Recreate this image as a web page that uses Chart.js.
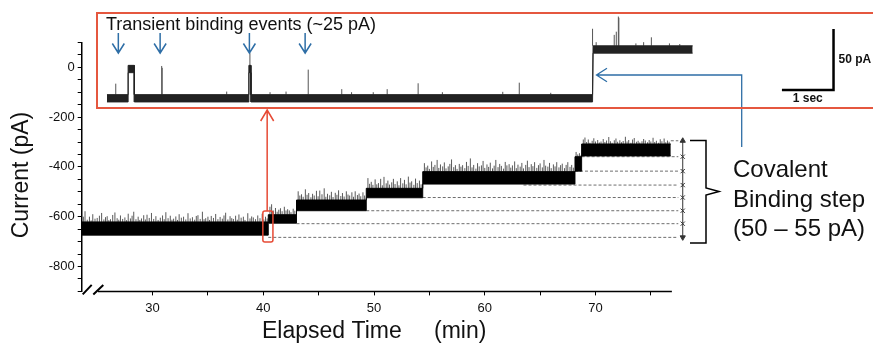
<!DOCTYPE html>
<html>
<head>
<meta charset="utf-8">
<script src="https://cdn.jsdelivr.net/npm/chart.js@4.4.1/dist/chart.umd.min.js"></script>
<style>
  html, body { margin: 0; padding: 0; background: #fff; overflow: hidden; }
  #wrap { position: relative; width: 873px; height: 348px; overflow: hidden; }
  #main { position: absolute; left: 0; top: 0; }
  #insetBox { position: absolute; left: 96px; top: 12px; width: 800px; height: 93px; border: 2px solid #e5573f; }
  #inset { position: absolute; left: 98px; top: 14px; }
</style>
</head>
<body>
<div id="wrap">
  <canvas id="main" width="873" height="348"></canvas>
  <div id="insetBox"></div>
  <canvas id="inset" width="775" height="93"></canvas>
</div>
<script>
Chart.defaults.font.family = "'Liberation Sans', Arial, sans-serif";
Chart.defaults.color = '#111';

// ---- main recording: current levels (time in min, current in pA) ----
const levelStart = [23.6, 40.45, 43.0, 49.3, 54.4, 68.15, 68.75];
const levelEnd   = [40.45, 43.0, 49.3, 54.4, 68.15, 68.75, 76.8];
const levelLow   = [-674, -626, -576, -524, -469, -417, -356];
const levelHigh  = [-621, -592, -533, -486, -419, -359, -308];

// noise spikes above each level
const spikeTime = [
  // baseline
  23.75, 23.9, 24.1, 24.3, 24.45, 24.6, 24.8, 25.0, 25.2, 25.4, 25.6, 25.75, 25.9, 26.05, 26.2, 26.4, 26.6, 26.8, 26.95, 27.1,
  27.3, 27.5, 27.65, 27.8, 28.0, 28.15, 28.3, 28.5, 28.7, 28.85, 29.0, 29.2, 29.35, 29.5, 29.7, 29.9, 30.1, 30.3, 30.5, 30.7,
  30.9, 31.05, 31.2, 31.4, 31.6, 31.75, 31.9, 32.1, 32.25, 32.4, 32.6, 32.8, 33.0, 33.2, 33.4, 33.6, 33.8, 33.95, 34.1, 34.3,
  34.5, 34.65, 34.8, 35.0, 35.15, 35.3, 35.5, 35.7, 35.9, 36.1, 36.3, 36.45, 36.6, 36.8, 37.0, 37.15, 37.3, 37.5, 37.65, 37.8,
  38.0, 38.2, 38.35, 38.6, 38.8, 38.95, 39.1, 39.3, 39.5, 39.7, 39.9, 40.05, 40.2, 40.35,
  // step 1
  40.6, 40.75, 40.9, 41.1, 41.25, 41.4, 41.55, 41.7, 41.9, 42.05, 42.2, 42.35, 42.5, 42.7, 42.85,
  // step 2
  43.15, 43.3, 43.45, 43.6, 43.8, 43.95, 44.1, 44.3, 44.45, 44.6, 44.8, 44.95, 45.1, 45.3, 45.5, 45.65, 45.8, 46.0, 46.15,
  46.3, 46.5, 46.65, 46.8, 47.0, 47.15, 47.3, 47.5, 47.65, 47.8, 48.0, 48.15, 48.3, 48.5, 48.65, 48.8, 49.0, 49.15,
  // step 3
  49.45, 49.6, 49.75, 49.9, 50.1, 50.25, 50.4, 50.6, 50.75, 50.9, 51.1, 51.25, 51.4, 51.6, 51.75, 51.9, 52.1, 52.25, 52.4,
  52.6, 52.75, 52.9, 53.1, 53.25, 53.4, 53.6, 53.75, 53.9, 54.1, 54.25,
  // step 4
  54.55, 54.7, 54.85, 55.0, 55.2, 55.35, 55.5, 55.7, 55.85, 56.0, 56.2, 56.35, 56.5, 56.7, 56.85, 57.0, 57.2, 57.35, 57.5,
  57.7, 57.85, 58.0, 58.2, 58.35, 58.5, 58.7, 58.85, 59.0, 59.2, 59.35, 59.5, 59.7, 59.85, 60.0, 60.2, 60.35, 60.5, 60.7,
  60.85, 61.0, 61.2, 61.35, 61.5, 61.7, 61.85, 62.0, 62.2, 62.35, 62.5, 62.7, 62.85, 63.0, 63.2, 63.35, 63.5, 63.7, 63.85,
  64.0, 64.2, 64.35, 64.5, 64.7, 64.85, 65.0, 65.2, 65.35, 65.5, 65.7, 65.85, 66.0, 66.2, 66.35, 66.5, 66.7, 66.85, 67.0,
  67.2, 67.35, 67.5, 67.7, 67.85, 68.0,
  // step 5
  68.25, 68.4, 68.55, 68.7,
  // step 6
  68.9, 69.05, 69.2, 69.35, 69.5, 69.7, 69.85, 70.0, 70.2, 70.35, 70.5, 70.7, 70.85, 71.0, 71.2, 71.35, 71.5, 71.7, 71.85,
  72.0, 72.2, 72.35, 72.5, 72.7, 72.85, 73.0, 73.2, 73.35, 73.5, 73.7, 73.85, 74.0, 74.2, 74.35, 74.5, 74.7, 74.85, 75.0,
  75.2, 75.35, 75.5, 75.7, 75.85, 76.0, 76.2, 76.35, 76.5, 76.65
];
const spikeTop = [
  -600, -578, -612, -600, -615, -590, -608, -605, -596, -585, -611, -602, -598, -614, -610, -593, -583, -606, -612, -595,
  -609, -603, -614, -588, -607, -596, -580, -610, -600, -613, -607, -594, -611, -592, -605, -585, -609, -598, -613, -604,
  -595, -610, -582, -606, -596, -612, -608, -599, -613, -590, -604, -600, -611, -586, -607, -602, -612, -597, -594, -609,
  -580, -610, -606, -600, -613, -597, -605, -589, -610, -601, -608, -595, -584, -611, -598, -606, -609, -596, -612, -591,
  -604, -600, -613, -586, -607, -599, -603, -610, -595, -606, -588, -611, -600, -607,
  -560, -550, -575, -565, -580, -572, -566, -578, -560, -575, -570, -575, -582, -568, -576,
  -498, -515, -510, -520, -490, -512, -505, -522, -508, -515, -496, -518, -495, -510, -486, -520, -508, -514, -500,
  -521, -504, -512, -494, -517, -505, -519, -498, -511, -515, -502, -520, -498, -513, -507, -518, -502, -515,
  -445, -468, -460, -472, -450, -470, -465, -448, -474, -440, -466, -455, -471, -462, -448, -469, -458, -474, -445,
  -466, -452, -470, -439, -463, -458, -472, -447, -465, -455, -470,
  -385, -402, -395, -408, -378, -400, -392, -372, -404, -390, -398, -382, -406, -398, -388, -370, -401, -393, -408,
  -388, -399, -393, -405, -380, -396, -366, -402, -392, -407, -385, -398, -394, -376, -404, -390, -400, -383, -406,
  -395, -372, -401, -388, -396, -407, -380, -394, -389, -403, -394, -378, -405, -391, -399, -384, -406, -392, -375,
  -401, -389, -397, -381, -404, -393, -386, -402, -372, -395, -399, -384, -405, -390, -398, -381, -402, -393, -387,
  -405, -392, -381, -400, -392, -403,
  -340, -350, -345, -352,
  -290, -282, -300, -290, -303, -295, -285, -298, -292, -302, -298, -288, -300, -294, -280, -297, -303, -293, -286,
  -299, -293, -301, -296, -279, -298, -292, -303, -290, -284, -299, -295, -302, -297, -288, -294, -301, -292, -298,
  -283, -300, -295, -303, -289, -297, -286, -301, -294, -299
];

// dashed reference lines for each binding step
const dashLevel = [-683, -628, -576, -523, -473, -417, -359, -295];
const dashStart = [40.45, 43.0, 49.3, 54.4, 63.5, 68.15, 68.75, 76.8];
const dashEnd = 77.48;
const stepArrowTime = 77.88;

const xTicks = [30, 35, 40, 45, 50, 55, 60, 65, 70, 75];
const xLabels = [30, 40, 50, 60, 70];
const yTicks = [100, 50, 0, -50, -100, -150, -200, -250, -300, -350, -400, -450, -500,
                -550, -600, -650, -700, -750, -800, -850, -900];
const yLabels = [0, -200, -400, -600, -800];

// ---- inset: transient events (time in s, current in pA above baseline) ----
const insetStart = [0, 0.41, 0.53, 2.75, 2.79, 9.42];
const insetEnd   = [0.41, 0.53, 2.75, 2.79, 9.41, 11.35];
const insetLow   = [-3, 21, -3, 21, -3, 37];
const insetHigh  = [3, 27, 3, 27, 3, 43];
const insetSpikeTime = [0.17, 1.06, 1.07, 2.32, 2.77, 3.16, 3.47, 3.90, 4.55, 4.74, 5.16, 5.43, 6.03, 6.50, 7.67, 7.99, 8.6,
                        9.41, 9.48, 9.83, 9.87, 9.91, 9.92, 10.25, 10.40, 10.55, 10.90, 11.1];
const insetSpikeTop  = [12, 26.5, 25, 5.5, 37, 5, 5.5, 23.5, 7.5, 5, 5, 7.5, 12.3, 5, 5.3, 12.8, 4.5,
                        57, 46, 52, 54.6, 67, 66, 45, 46, 50, 45, 44.5];
const insetArrowTime = [0.22, 1.03, 2.76, 3.84];
const scaleBarTime = [13.08, 14.08];     // 1 sec
const scaleBarCurrent = [6.8, 56.8];     // 50 pA

function levelAt(t, starts, ends, highs) {
  for (let i = 0; i < starts.length; i++) {
    if (t >= starts[i] && t < ends[i]) return highs[i];
  }
  return highs[highs.length - 1];
}

function envelope(starts, ends, vals) {
  const pts = [];
  starts.forEach((s, i) => {
    pts.push({x: s, y: vals[i]}, {x: ends[i], y: vals[i]});
  });
  return pts;
}

function spikes(times, tops, starts, ends, highs) {
  const pts = [];
  times.forEach((t, i) => {
    pts.push({x: t, y: levelAt(t, starts, ends, highs)}, {x: t, y: tops[i]}, {x: t, y: null});
  });
  return pts;
}

const lineBase = {pointRadius: 0, tension: 0, spanGaps: false};

// main datasets: first index is drawn on top
const mainSets = [
  Object.assign({data: envelope(levelStart, levelEnd, levelHigh), borderColor: '#000', borderWidth: 1,
    fill: '+1', backgroundColor: '#000'}, lineBase),
  Object.assign({data: envelope(levelStart, levelEnd, levelLow), borderColor: '#111', borderWidth: 1, fill: false}, lineBase),
  Object.assign({data: spikes(spikeTime, spikeTop, levelStart, levelEnd, levelHigh), borderColor: '#5a5a5a', borderWidth: 1, fill: false}, lineBase),
  {
    data: dashLevel.map(v => ({x: stepArrowTime, y: v})),
    borderColor: '#333', borderWidth: 1, fill: false, tension: 0,
    pointStyle: dashLevel.map((v, i) => (i === 0 || i === dashLevel.length - 1) ? 'triangle' : 'crossRot'),
    pointRotation: dashLevel.map((v, i) => i === 0 ? 180 : 0),
    pointRadius: 3, pointBorderWidth: 1, pointBorderColor: '#333', pointBackgroundColor: '#333'
  }
];
dashLevel.forEach((v, i) => {
  mainSets.push(Object.assign({data: [{x: dashStart[i], y: v}, {x: dashEnd, y: v}],
    borderColor: '#6e6e6e', borderWidth: 1, borderDash: [3, 2], fill: false}, lineBase));
});

const FONT = "'Liberation Sans', Arial, sans-serif";

const mainDecor = {
  id: 'mainDecor',
  afterDraw(chart) {
    const ctx = chart.ctx;
    const xs = chart.scales.x, ys = chart.scales.y;
    const bottom = chart.chartArea.bottom;
    ctx.save();
    // x axis line after the break
    ctx.strokeStyle = '#000';
    ctx.lineWidth = 1.5;
    ctx.beginPath();
    ctx.moveTo(98, bottom);
    ctx.lineTo(xs.getPixelForValue(76.9), bottom);
    ctx.stroke();
    // axis break marks
    ctx.lineWidth = 2;
    ctx.beginPath();
    ctx.moveTo(82.7, bottom + 3); ctx.lineTo(91.7, bottom - 6.5);
    ctx.moveTo(93.3, bottom + 3); ctx.lineTo(103.3, bottom - 6.5);
    ctx.stroke();

    // red box around the first step and the arrow to the inset
    ctx.strokeStyle = '#e64a35';
    ctx.lineWidth = 1.5;
    const bx0 = xs.getPixelForValue(39.96), bx1 = xs.getPixelForValue(40.87);
    const by0 = ys.getPixelForValue(-577), by1 = ys.getPixelForValue(-702);
    ctx.beginPath();
    ctx.roundRect(bx0, by0, bx1 - bx0, by1 - by0, 2);
    ctx.stroke();
    const ax = xs.getPixelForValue(40.35);
    ctx.beginPath();
    ctx.moveTo(ax, by0);
    ctx.lineTo(ax, 110);
    ctx.moveTo(ax - 6.5, 121);
    ctx.lineTo(ax, 110);
    ctx.lineTo(ax + 6.5, 121);
    ctx.stroke();

    // blue connector from the label to the inset step
    ctx.strokeStyle = '#2e6ea6';
    ctx.lineWidth = 1.3;
    ctx.beginPath();
    ctx.moveTo(741.7, 147);
    ctx.lineTo(741.7, 75);
    ctx.lineTo(596.5, 75);
    ctx.moveTo(607, 68.3);
    ctx.lineTo(596.5, 75);
    ctx.lineTo(607, 81.7);
    ctx.stroke();

    // brace
    ctx.strokeStyle = '#000';
    ctx.lineWidth = 1.5;
    ctx.beginPath();
    ctx.moveTo(690, 140.5);
    ctx.lineTo(706, 140.5);
    ctx.lineTo(706, 188);
    ctx.lineTo(719, 191.5);
    ctx.lineTo(706, 195);
    ctx.lineTo(706, 243);
    ctx.lineTo(690, 243);
    ctx.stroke();

    // texts
    ctx.fillStyle = '#111';
    ctx.textBaseline = 'middle';
    ctx.textAlign = 'left';
    ctx.font = '24px ' + FONT;
    ctx.fillText('Covalent', 733, 170);
    ctx.fillText('Binding step', 733, 200);
    ctx.fillText('(50 \u2013 55 pA)', 733, 229);

    ctx.font = '23px ' + FONT;
    ctx.fillText('Elapsed Time', 262, 332);
    ctx.fillText('(min)', 434, 332);

    ctx.translate(22, 175);
    ctx.rotate(-Math.PI / 2);
    ctx.textAlign = 'center';
    ctx.fillText('Current (pA)', 0, 0);
    ctx.restore();
  }
};

new Chart(document.getElementById('main'), {
  type: 'line',
  data: {datasets: mainSets},
  options: {
    responsive: false,
    animation: false,
    devicePixelRatio: 1,
    events: [],
    layout: {padding: {left: 0, top: 42.4, right: 183.4, bottom: 0}},
    plugins: {legend: {display: false}, tooltip: {enabled: false}},
    scales: {
      x: {
        type: 'linear', min: 23.6, max: 78.5,
        afterBuildTicks: s => { s.ticks = xTicks.map(v => ({value: v})); },
        afterFit: s => { s.height = 56.6; },
        ticks: {callback: v => xLabels.includes(v) ? String(v) : '', font: {size: 13}, color: '#111',
          padding: 5, maxRotation: 0, autoSkip: false},
        grid: {drawOnChartArea: false, drawTicks: true, tickLength: 4, color: '#000', lineWidth: 1},
        border: {display: false}
      },
      y: {
        type: 'linear', min: -900, max: 100,
        afterBuildTicks: s => { s.ticks = yTicks.map(v => ({value: v})); },
        afterFit: s => { s.width = 81.7; },
        ticks: {callback: v => yLabels.includes(v) ? String(v) : '', font: {size: 13}, color: '#111',
          padding: 3, autoSkip: false},
        grid: {drawOnChartArea: false, drawTicks: true, tickLength: 4, color: '#000', lineWidth: 1},
        border: {display: true, color: '#000', width: 1.5}
      }
    }
  },
  plugins: [mainDecor]
});

// ---- inset chart ----
const insetDecor = {
  id: 'insetDecor',
  afterDraw(chart) {
    const ctx = chart.ctx;
    const xs = chart.scales.x, ys = chart.scales.y;
    ctx.save();
    ctx.strokeStyle = '#2e6ea6';
    ctx.lineWidth = 1.5;
    insetArrowTime.forEach(t => {
      const x = xs.getPixelForValue(t);
      ctx.beginPath();
      ctx.moveTo(x, 19);
      ctx.lineTo(x, 39);
      ctx.moveTo(x - 6, 29.5);
      ctx.lineTo(x, 39);
      ctx.lineTo(x + 6, 29.5);
      ctx.stroke();
    });
    ctx.fillStyle = '#111';
    ctx.textBaseline = 'middle';
    ctx.textAlign = 'left';
    ctx.font = '18px ' + FONT;
    ctx.fillText('Transient binding events (~25 pA)', 8, 11);

    ctx.font = 'bold 12px ' + FONT;
    ctx.fillText('50 pA', xs.getPixelForValue(scaleBarTime[1]) + 5,
      ys.getPixelForValue((scaleBarCurrent[0] + scaleBarCurrent[1]) / 2));
    ctx.textAlign = 'center';
    ctx.fillText('1 sec', xs.getPixelForValue((scaleBarTime[0] + scaleBarTime[1]) / 2),
      ys.getPixelForValue(scaleBarCurrent[0]) + 9);
    ctx.restore();
  }
};

new Chart(document.getElementById('inset'), {
  type: 'line',
  data: {datasets: [
    Object.assign({data: envelope(insetStart, insetEnd, insetHigh), borderColor: '#222', borderWidth: 1,
      fill: '+1', backgroundColor: '#222'}, lineBase),
    Object.assign({data: envelope(insetStart, insetEnd, insetLow), borderColor: '#333', borderWidth: 1, fill: false}, lineBase),
    Object.assign({data: spikes(insetSpikeTime, insetSpikeTop, insetStart, insetEnd, insetHigh), borderColor: '#555', borderWidth: 1, fill: false}, lineBase),
    Object.assign({data: [{x: scaleBarTime[0], y: scaleBarCurrent[0]}, {x: scaleBarTime[1], y: scaleBarCurrent[0]},
      {x: scaleBarTime[1], y: scaleBarCurrent[1]}], borderColor: '#000', borderWidth: 2.5, fill: false,
      borderJoinStyle: 'miter'}, lineBase)
  ]},
  options: {
    responsive: false,
    animation: false,
    devicePixelRatio: 1,
    events: [],
    layout: {padding: 0},
    plugins: {legend: {display: false}, tooltip: {enabled: false}},
    scales: {
      x: {type: 'linear', min: -0.174, max: 14.845, display: false},
      y: {type: 'linear', min: -7.13, max: 69.1, display: false}
    }
  },
  plugins: [insetDecor]
});
</script>
</body>
</html>
